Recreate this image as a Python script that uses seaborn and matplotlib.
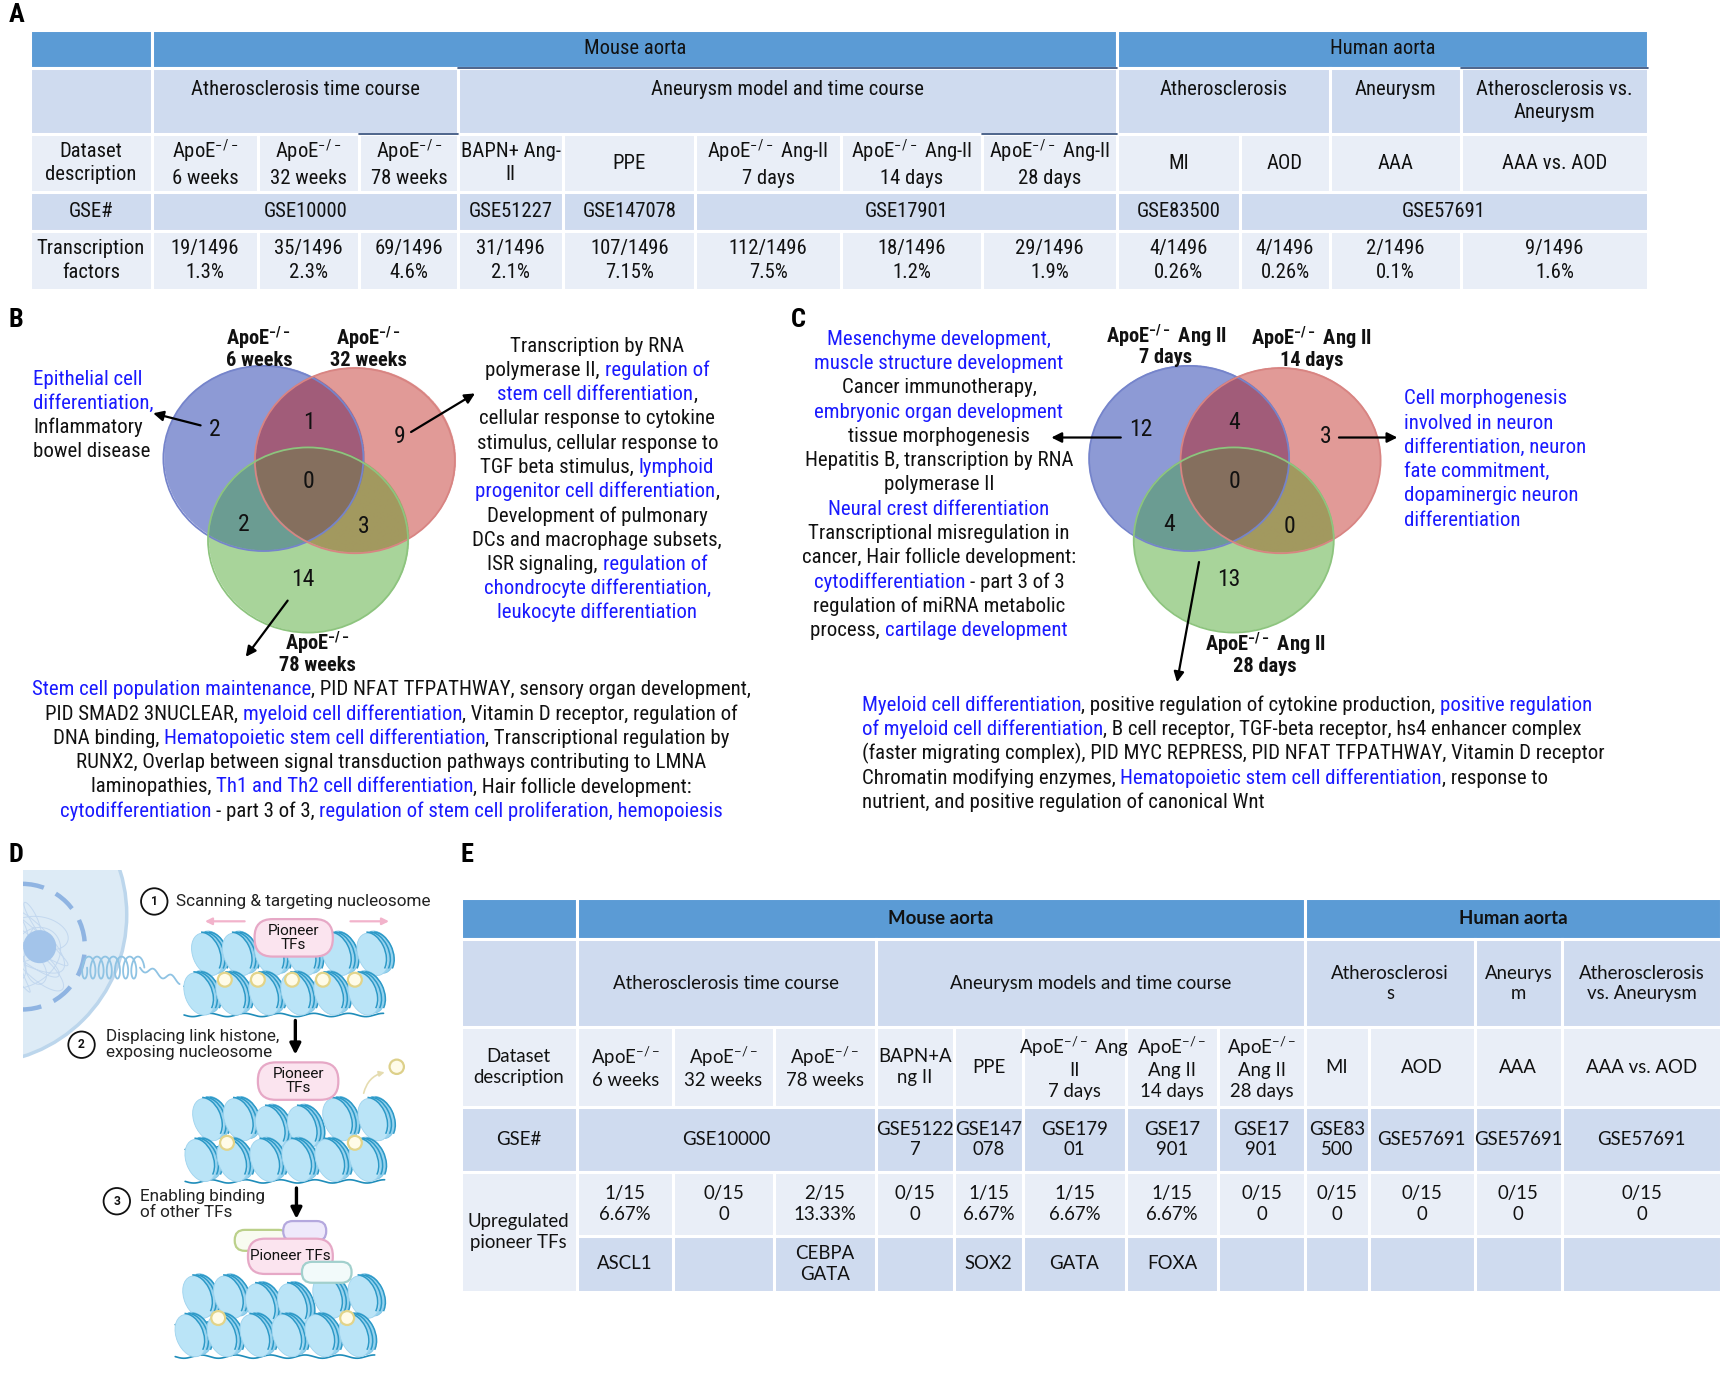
import numpy as np
import matplotlib
matplotlib.use("Agg")
import matplotlib.pyplot as plt
import seaborn as sns
from matplotlib import font_manager
from matplotlib.patches import Rectangle, Ellipse, Circle, Arc, FancyBboxPatch

sns.set_theme(style="white")
names = {f.name for f in font_manager.fontManager.ttflist}
pref = ["Liberation Sans Narrow", "Noto Sans Condensed", "Noto Sans SemiCondensed",
        "DejaVu Sans Condensed", "Roboto Condensed", "Open Sans Condensed", "Arimo Narrow"]
NARROW = next((p for p in pref if p in names), None)
if NARROW is None:
    cand = sorted(n for n in names if ("Condensed" in n or "Narrow" in n)
                  and "Extra" not in n and "Ultra" not in n and "CJK" not in n)
    NARROW = cand[0] if cand else "Liberation Sans"
plt.rcParams["font.family"] = [NARROW, "DejaVu Sans"]
plt.rcParams["mathtext.default"] = "regular"

# ---------------- data ----------------
# panel A
a_species = ["Mouse aorta", "Human aorta"]
a_models = ["Atherosclerosis time course", "Aneurysm model and time course",
            "Atherosclerosis", "Aneurysm", "Atherosclerosis vs.\nAneurysm"]
a_datasets = ["ApoE$^{-/-}$\n6 weeks", "ApoE$^{-/-}$\n32 weeks", "ApoE$^{-/-}$\n78 weeks",
              "BAPN+ Ang-\nII", "PPE", "ApoE$^{-/-}$ Ang-II\n7 days",
              "ApoE$^{-/-}$ Ang-II\n14 days", "ApoE$^{-/-}$ Ang-II\n28 days",
              "MI", "AOD", "AAA", "AAA vs. AOD"]
a_gse = ["GSE10000", "GSE51227", "GSE147078", "GSE17901", "GSE83500", "GSE57691"]
a_tf_n = [19, 35, 69, 31, 107, 112, 18, 29, 4, 4, 2, 9]
a_tf_total = 1496
a_tf_pct = ["1.3%", "2.3%", "4.6%", "2.1%", "7.15%", "7.5%", "1.2%", "1.9%",
            "0.26%", "0.26%", "0.1%", "1.6%"]

# panel E
e_species = ["Mouse aorta", "Human aorta"]
e_models = ["Atherosclerosis time course", "Aneurysm models and time course",
            "Atherosclerosi\ns", "Aneurys\nm", "Atherosclerosis\nvs. Aneurysm"]
e_datasets = ["ApoE$^{-/-}$\n6 weeks", "ApoE$^{-/-}$\n32 weeks", "ApoE$^{-/-}$\n78 weeks",
              "BAPN+A\nng II", "PPE", "ApoE$^{-/-}$ Ang\nII\n7 days",
              "ApoE$^{-/-}$\nAng II\n14 days", "ApoE$^{-/-}$\nAng II\n28 days",
              "MI", "AOD", "AAA", "AAA vs. AOD"]
e_gse = ["GSE10000", "GSE5122\n7", "GSE147\n078", "GSE179\n01", "GSE17\n901", "GSE17\n901",
         "GSE83\n500", "GSE57691", "GSE57691", "GSE57691"]
e_up_n = [1, 0, 2, 0, 1, 1, 1, 0, 0, 0, 0, 0]
e_up_total = 15
e_up_pct = ["6.67%", "0", "13.33%", "0", "6.67%", "6.67%", "6.67%", "0", "0", "0", "0", "0"]
e_pioneer = ["ASCL1", "", "CEBPA\nGATA", "", "SOX2", "GATA", "FOXA", "", "", "", "", ""]

# Venn diagrams: regions A, B, C, AB, AC, BC, ABC
venn_b_sets = ["ApoE$^{-/-}$\n6 weeks", "ApoE$^{-/-}$\n32 weeks", "ApoE$^{-/-}$\n78 weeks"]
venn_b_counts = [2, 9, 14, 1, 2, 3, 0]
venn_c_sets = ["ApoE$^{-/-}$ Ang II\n7 days", "ApoE$^{-/-}$ Ang II\n14 days",
               "ApoE$^{-/-}$ Ang II\n28 days"]
venn_c_counts = [12, 3, 13, 4, 4, 0, 0]

K = "#111111"
BL = "#1a1aff"
b_left = [[("Epithelial cell", BL)], [("differentiation,", BL)],
          [("Inflammatory", K)], [("bowel disease", K)]]
b_right = [
    [("Transcription by RNA", K)],
    [("polymerase II, ", K), ("regulation of", BL)],
    [("stem cell differentiation", BL), (",", K)],
    [("cellular response to cytokine", K)],
    [("stimulus, cellular response to", K)],
    [("TGF beta stimulus, ", K), ("lymphoid", BL)],
    [("progenitor cell differentiation", BL), (",", K)],
    [("Development of pulmonary", K)],
    [("DCs and macrophage subsets,", K)],
    [("ISR signaling, ", K), ("regulation of", BL)],
    [("chondrocyte differentiation,", BL)],
    [("leukocyte differentiation", BL)],
]
b_bottom = [
    [("Stem cell population maintenance", BL), (", PID NFAT TFPATHWAY, sensory organ development,", K)],
    [("PID SMAD2 3NUCLEAR, ", K), ("myeloid cell differentiation", BL), (", Vitamin D receptor, regulation of", K)],
    [("DNA binding, ", K), ("Hematopoietic stem cell differentiation", BL), (", Transcriptional regulation by", K)],
    [("RUNX2, Overlap between signal transduction pathways contributing to LMNA", K)],
    [("laminopathies, ", K), ("Th1 and Th2 cell differentiation", BL), (", Hair follicle development:", K)],
    [("cytodifferentiation ", BL), ("- part 3 of 3, ", K), ("regulation of stem cell proliferation, hemopoiesis", BL)],
]
c_left = [
    [("Mesenchyme development,", BL)],
    [("muscle structure development", BL)],
    [("Cancer immunotherapy,", K)],
    [("embryonic organ development", BL)],
    [("tissue morphogenesis", K)],
    [("Hepatitis B, transcription by RNA", K)],
    [("polymerase II", K)],
    [("Neural crest differentiation", BL)],
    [("Transcriptional misregulation in", K)],
    [("cancer, Hair follicle development:", K)],
    [("cytodifferentiation ", BL), ("- part 3 of 3", K)],
    [("regulation of miRNA metabolic", K)],
    [("process, ", K), ("cartilage development", BL)],
]
c_right = [[(s, BL)] for s in ["Cell morphogenesis", "involved in neuron", "differentiation, neuron",
                               "fate commitment,", "dopaminergic neuron", "differentiation"]]
c_bottom = [
    [("Myeloid cell differentiation", BL), (", positive regulation of cytokine production, ", K), ("positive regulation", BL)],
    [("of myeloid cell differentiation", BL), (", B cell receptor, TGF-beta receptor, hs4 enhancer complex", K)],
    [("(faster migrating complex), PID MYC REPRESS, PID NFAT TFPATHWAY, Vitamin D receptor", K)],
    [("Chromatin modifying enzymes, ", K), ("Hematopoietic stem cell differentiation", BL), (", response to", K)],
    [("nutrient, and positive regulation of canonical Wnt", K)],
]

d_steps = ["Scanning & targeting nucleosome", "Displacing link histone,\nexposing nucleosome",
           "Enabling binding\nof other TFs"]

# ---------------- canvas ----------------
W = 1568.0
H = W * 1388 / 1728
PPU = 1728 / W
fig = plt.figure(figsize=(17.28, 13.88), dpi=100)
ax = fig.add_axes([0, 0, 1, 1])
ax.set_xlim(0, W)
ax.set_ylim(H, 0)
ax.axis("off")
renderer = fig.canvas.get_renderer()


def text_width(s, **kw):
    t = ax.text(0, 0, s, **kw)
    w = t.get_window_extent(renderer).width / PPU
    t.remove()
    return w


def fit(s, target, **kw):
    return 10 * target / text_width(s, fontsize=10, **kw)


def rich_line(x, y, segs, ha="center", **kw):
    full = "".join(s for s, _ in segs)
    bar = text_width("|", **kw)
    total = text_width(full + "|", **kw) - bar
    x0 = x - total / 2 if ha == "center" else x
    prefix = ""
    for s, c in segs:
        off = text_width(prefix + "|", **kw) - bar if prefix else 0
        ax.text(x0 + off, y, s, color=c, ha="left", va="center", **kw)
        prefix += s


def block(x, y0, lines, ha="center", dy=22, **kw):
    for i, segs in enumerate(lines):
        rich_line(x, y0 + i * dy, segs, ha=ha, **kw)


HEAD = "#5B9BD5"
L1 = "#CFDBEF"
L2 = "#E9EEF7"
LINE = "#2F4A78"


def cell(x0, x1, y0, y1, fc, text="", va="center", pad=0, **kw):
    ax.add_patch(Rectangle((x0, y0), x1 - x0, y1 - y0, facecolor=fc, edgecolor="white",
                           lw=2.2, zorder=1))
    if text:
        ty = (y0 + y1) / 2 if va == "center" else y0 + pad
        ax.text((x0 + x1) / 2, ty, text, ha="center", va=va, multialignment="center",
                color=K, zorder=2, **kw)


FA = [NARROW, "DejaVu Sans"]
FE = ["Lato", "DejaVu Sans"]
FD = ["Roboto", "DejaVu Sans"]

fs_a = fit("Atherosclerosis time course", 206, family=FA)
fs_e = fit("Atherosclerosis time course", 206, family=FE)
fs_txt = fit(b_bottom[0][0][0] + b_bottom[0][1][0], 650, family=FA)
fs_lab = fit("32 weeks", 70, family=FA, weight="bold")
fs_num = max(fit("14", 21, family=FA), 17)
fs_d = fit(d_steps[0], 233, family=FD)

# ---------------- panel A ----------------
A_X = [27, 138, 234, 326, 416, 511, 631, 763, 891, 1014, 1125, 1207, 1326, 1495]
A_Y = [27, 61.5, 121.5, 174.5, 209.5, 263]
akw = dict(family=FA, fontsize=fs_a, linespacing=1.3)
cell(A_X[0], A_X[1], A_Y[0], A_Y[1], HEAD)
for name, (i, j) in zip(a_species, [(1, 9), (9, 13)]):
    cell(A_X[i], A_X[j], A_Y[0], A_Y[1], HEAD, name, **akw)
cell(A_X[0], A_X[1], A_Y[1], A_Y[2], L1)
for name, (i, j) in zip(a_models, [(1, 4), (4, 9), (9, 11), (11, 12), (12, 13)]):
    cell(A_X[i], A_X[j], A_Y[1], A_Y[2], L1, name, va="top", pad=11, **akw)
cell(A_X[0], A_X[1], A_Y[2], A_Y[3], L2, "Dataset\ndescription", **akw)
for k, name in enumerate(a_datasets):
    cell(A_X[k + 1], A_X[k + 2], A_Y[2], A_Y[3], L2, name, **akw)
cell(A_X[0], A_X[1], A_Y[3], A_Y[4], L1, "GSE#", **akw)
for name, (i, j) in zip(a_gse, [(1, 4), (4, 5), (5, 6), (6, 9), (9, 10), (10, 13)]):
    cell(A_X[i], A_X[j], A_Y[3], A_Y[4], L1, name, **akw)
cell(A_X[0], A_X[1], A_Y[4], A_Y[5], L2, "Transcription\nfactors", **akw)
for k, (n, p) in enumerate(zip(a_tf_n, a_tf_pct)):
    cell(A_X[k + 1], A_X[k + 2], A_Y[4], A_Y[5], L2, f"{n}/{a_tf_total}\n{p}", **akw)
for (i, j, yy) in [(4, 9, 62), (12, 13, 62), (3, 4, 121.5), (8, 9, 121.5)]:
    ax.plot([A_X[i], A_X[j]], [yy, yy], color=LINE, lw=1.2, zorder=3)

# ---------------- Venn diagrams ----------------
VCOL = np.array([
    [1, 1, 1, 0],
    [0.553, 0.604, 0.839, 1],   # A
    [0.886, 0.604, 0.596, 1],   # B
    [0.635, 0.361, 0.478, 1],   # AB
    [0.659, 0.835, 0.604, 1],   # C
    [0.420, 0.612, 0.573, 1],   # AC
    [0.639, 0.600, 0.373, 1],   # BC
    [0.522, 0.439, 0.369, 1],   # ABC
])
VEDGE = ["#7584CB", "#D88482", "#8DC47E"]
VOFF = [(-44, -26), (124, -20), (36, 110), (41, -33), (-18, 60), (91, 62), (41, 21)]


def venn(ox, oy, counts, sets, label_xy):
    centers = [(ox, oy), (ox + 83, oy + 2), (ox + 40.5, oy + 74)]
    w, h = 181.5, 168.0
    x0, x1, y0, y1 = ox - 95, ox + 180, oy - 90, oy + 165
    xs = np.arange(x0, x1, 0.35)
    ys = np.arange(y0, y1, 0.35)
    X, Y = np.meshgrid(xs, ys)
    code = np.zeros(X.shape, dtype=int)
    for bit, (cx, cy) in zip([1, 2, 4], centers):
        code += bit * ((((X - cx) / (w / 2)) ** 2 + ((Y - cy) / (h / 2)) ** 2) <= 1)
    ax.imshow(VCOL[code], extent=(x0, x1, y1, y0), interpolation="bilinear", zorder=1)
    for (cx, cy), ec in zip(centers, VEDGE):
        ax.add_patch(Ellipse((cx, cy), w, h, fill=False, ec=ec, lw=1.3, zorder=2))
    for n, (dx, dy) in zip(counts, VOFF):
        ax.text(ox + dx, oy + dy, str(n), ha="center", va="center", fontsize=fs_num,
                family=FA, color=K, zorder=3)
    for s, (lx, ly) in zip(sets, label_xy):
        ax.text(lx, ly, s, ha="center", va="center", fontsize=fs_lab, family=FA,
                weight="bold", linespacing=0.92, color=K, zorder=3)


def arrow(tail, head, lw=1.6, ms=15, color="black", **kw):
    ax.annotate("", xy=head, xytext=tail,
                arrowprops=dict(arrowstyle="-|>", color=color, lw=lw, mutation_scale=ms,
                                shrinkA=0, shrinkB=0, **kw), zorder=4)


tkw = dict(family=FA, fontsize=fs_txt)

# ---------------- panel B ----------------
venn(239, 416, venn_b_counts, venn_b_sets, [(235, 315), (334, 315), (288, 592)])
block(30, 344, b_left, ha="left", **tkw)
block(542, 314, b_right, **tkw)
block(355, 626, b_bottom, **tkw)
arrow((182, 386), (139, 375))
arrow((373, 392), (431, 357))
arrow((261, 545), (223, 596))

# ---------------- panel C ----------------
venn(1079, 416, venn_c_counts, venn_c_sets, [(1058, 313), (1190, 315), (1148, 593)])
block(852, 308, c_left, **tkw)
block(1274, 362, c_right, ha="left", **tkw)
block(782, 640, c_bottom, ha="left", **tkw)
arrow((1017, 397), (954, 397))
arrow((1215, 397), (1268, 397))
arrow((1088, 510), (1068, 619))

# ---------------- panel D ----------------
clip = Rectangle((21, 789), 200, 200, transform=ax.transData)
cellp = Circle((-20, 830), 135, fc="#DDEBF6", ec="#BCD6EC", lw=2.5, zorder=1)
ax.add_patch(cellp)
cellp.set_clip_path(clip)
t = np.linspace(0, 2 * np.pi * 9, 1500)
tx = 22 + 40 * np.sin(1.13 * t) * np.cos(0.31 * t)
ty = 859 + 42 * np.cos(0.87 * t) * np.sin(0.53 * t + 0.4)
ln, = ax.plot(tx, ty, color="#C3D8EF", lw=0.7, zorder=2)
ln.set_clip_path(clip)
nucleolus = Circle((36, 859), 15, fc="#A3C4EA", ec="none", zorder=2)
ax.add_patch(nucleolus)
nucleolus.set_clip_path(clip)
ring = Circle((20, 859), 57, fill=False, ec="#8FB4E2", lw=3.2, ls=(0, (5, 3)), zorder=3)
ax.add_patch(ring)
ring.set_clip_path(clip)
tt = np.linspace(0, 2 * np.pi * 7, 600)
ax.plot(75 + 52 * tt / tt[-1] + 4 * np.cos(tt), 878 + 10 * np.sin(tt), color="#8FC3E3",
        lw=1.3, zorder=3)
tw = np.linspace(0, 1, 100)
ax.plot(127 + 36 * tw, 878 + 12 * tw + 3 * np.sin(tw * 14), color="#8FC3E3", lw=1.3, zorder=3)


def nucleosome(x, y):
    w, h, ang = 26, 40, -22
    ax.add_patch(Ellipse((x + 5, y - 2), w, h, angle=ang, fc="#94D2EE", ec="#7CC2E4",
                         lw=0.6, zorder=3))
    ax.add_patch(Ellipse((x, y), w, h, angle=ang, fc="#BAE4F7", ec="#9ED3EE", lw=0.6, zorder=3))
    for dx in (-1.5, 2.0, 5.5):
        ax.add_patch(Arc((x + dx, y - 1), w, h, angle=ang, theta1=-80, theta2=70,
                         color="#2C99C7", lw=1.1, zorder=3))


def chromatin(top, y_top, bot, y_bot, balls, y_ball, drop=()):
    xx = np.linspace(bot[0] - 14, bot[-1] + 18, 200)
    ax.plot(xx, y_bot + 19 + 1.5 * np.sin((xx - xx[0]) / 5), color="#1F8DBA", lw=1.2, zorder=2)
    ax.plot(xx[:40], y_ball + 6 - 0.08 * (xx[:40] - xx[0]), color="#1F8DBA", lw=1.2, zorder=2)
    for k, x in enumerate(top):
        nucleosome(x, y_top + (7 if k in drop else 0))
    for x in bot:
        nucleosome(x, y_bot)
    for x in balls:
        ax.add_patch(Circle((x, y_ball), 6.3, fc="#FFFBE8", ec="#E2D48A", lw=1.6, zorder=4))


def pill(x0, y0, x1, y1, fc, ec, text="", fs=10, z=6):
    ax.add_patch(FancyBboxPatch((x0, y0), x1 - x0, y1 - y0,
                                boxstyle=f"round,pad=0,rounding_size={(y1 - y0) * 0.48:.1f}",
                                fc=fc, ec=ec, lw=1.6, zorder=z))
    if text:
        ax.text((x0 + x1) / 2, (y0 + y1) / 2, text, ha="center", va="center", fontsize=fs,
                family=FD, linespacing=1.0, color=K, zorder=z + 0.1)


fs_pill = fit("Pioneer", 47, family=FD)
PF, PE = "#FBE4EF", "#E6A8C6"

row_top = [188, 216, 245, 274, 306, 338]
row_bot = [181, 210, 240, 269, 299, 330]
chromatin(row_top, 866, row_bot, 902, [204, 234, 265, 293, 322], 889)
chromatin([x + 1 for x in row_top], 1016, [x + 1 for x in row_bot], 1053, [206, 322], 1037,
          drop=(2, 3))
chromatin([x - 8 for x in row_top], 1177, [x - 8 for x in row_bot], 1212, [198, 315], 1196,
          drop=(2, 3))

pill(231, 834, 302, 868, PF, PE, "Pioneer\nTFs", fs_pill)
arrow((222, 836), (186, 836), lw=1.6, ms=10, color="#F2B3CB")
arrow((318, 836), (353, 836), lw=1.6, ms=10, color="#F2B3CB")
pill(234, 964, 307, 998, PF, PE, "Pioneer\nTFs", fs_pill)
ax.add_patch(Circle((360, 968), 6.5, fc="#FFFBE8", ec="#DDD08A", lw=1.6, zorder=4))
arrow((330, 992), (349, 973), lw=1.2, ms=8, color="#E5DCB0", connectionstyle="arc3,rad=-0.3")
pill(213, 1116, 262, 1135, "#F8FBF0", "#BBD08A", z=5)
pill(257, 1108, 296, 1126, "#EEE9FB", "#B4A8DE", z=5)
pill(225, 1124, 302, 1156, PF, PE, "Pioneer TFs", fs_pill, z=6)
pill(274, 1145, 319, 1164, "#F2FAFA", "#A2D0CD", z=7)

arrow((268, 926), (268, 957), lw=2.4, ms=16)
arrow((269, 1078), (269, 1106), lw=2.4, ms=16)

for (cx, cy), (tx0, ty0), s, num in zip([(140, 818), (74, 948), (106, 1090)],
                                       [(160, 818), (96, 948), (127, 1093)],
                                       d_steps, ["1", "2", "3"]):
    ax.add_patch(Circle((cx, cy), 12, fill=False, ec=K, lw=1.3, zorder=5))
    ax.text(cx, cy, num, ha="center", va="center", fontsize=fs_d * 0.7, family=FD,
            weight="bold", color=K, zorder=5)
    ax.text(tx0, ty0, s, ha="left", va="center", fontsize=fs_d, family=FD, color="#222222",
            linespacing=1.05, zorder=5)

# ---------------- panel E ----------------
E_X = [418, 523.5, 611, 702, 794.5, 866, 928, 1022, 1105, 1184.5, 1242, 1338, 1417.5, 1562]
E_Y = [815, 852.5, 932, 1004.5, 1063.5, 1121.5, 1172]
ekw = dict(family=FE, fontsize=fs_e, linespacing=1.25)
cell(E_X[0], E_X[1], E_Y[0], E_Y[1], HEAD)
for name, (i, j) in zip(e_species, [(1, 9), (9, 13)]):
    cell(E_X[i], E_X[j], E_Y[0], E_Y[1], HEAD, name, weight="bold", **ekw)
cell(E_X[0], E_X[1], E_Y[1], E_Y[2], L1)
for name, (i, j) in zip(e_models, [(1, 4), (4, 9), (9, 11), (11, 12), (12, 13)]):
    cell(E_X[i], E_X[j], E_Y[1], E_Y[2], L1, name, **ekw)
cell(E_X[0], E_X[1], E_Y[2], E_Y[3], L2, "Dataset\ndescription", **ekw)
for k, name in enumerate(e_datasets):
    cell(E_X[k + 1], E_X[k + 2], E_Y[2], E_Y[3], L2, name, **ekw)
cell(E_X[0], E_X[1], E_Y[3], E_Y[4], L1, "GSE#", **ekw)
for name, (i, j) in zip(e_gse, [(1, 4)] + [(k, k + 1) for k in range(4, 13)]):
    cell(E_X[i], E_X[j], E_Y[3], E_Y[4], L1, name, **ekw)
cell(E_X[0], E_X[1], E_Y[4], E_Y[6], L2, "Upregulated\npioneer TFs", **ekw)
for k, (n, p) in enumerate(zip(e_up_n, e_up_pct)):
    cell(E_X[k + 1], E_X[k + 2], E_Y[4], E_Y[5], L2, f"{n}/{e_up_total}\n{p}", **ekw)
for k, name in enumerate(e_pioneer):
    cell(E_X[k + 1], E_X[k + 2], E_Y[5], E_Y[6], L1, name, **ekw)

# ---------------- panel letters ----------------
for letter, (lx, ly) in zip("ABCDE", [(8, 14), (8, 290), (718, 290), (8, 776), (418, 776)]):
    ax.text(lx, ly, letter, ha="left", va="center", fontsize=19, family=FA, weight="bold",
            color="black")

ax.set_xlim(0, W)
ax.set_ylim(H, 0)
fig.savefig("out.png", dpi=100, facecolor="white")
